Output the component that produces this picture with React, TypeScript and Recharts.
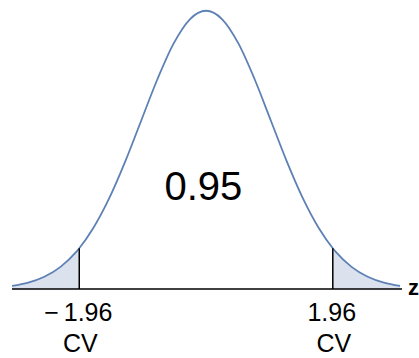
import React from 'react';
import {
  ComposedChart,
  Line,
  Area,
  XAxis,
  YAxis,
  ReferenceLine,
  ReferenceDot,
} from 'recharts';

// standard normal curve
const zValues = [
  -3, -2.75, -2.5, -2.25, -2, -1.96, -1.75, -1.5, -1.25, -1, -0.75, -0.5, -0.25,
  0, 0.25, 0.5, 0.75, 1, 1.25, 1.5, 1.75, 1.96, 2, 2.25, 2.5, 2.75, 3,
];
const density = [
  0.0044, 0.0091, 0.0175, 0.0317, 0.054, 0.0584, 0.0863, 0.1295, 0.1826, 0.242, 0.3011, 0.3521, 0.3867,
  0.3989, 0.3867, 0.3521, 0.3011, 0.242, 0.1826, 0.1295, 0.0863, 0.0584, 0.054, 0.0317, 0.0175, 0.0091, 0.0044,
];
// shaded rejection tails (null in the middle)
const tailDensity = [
  0.0044, 0.0091, 0.0175, 0.0317, 0.054, 0.0584, null, null, null, null, null, null, null,
  null, null, null, null, null, null, null, null, 0.0584, 0.054, 0.0317, 0.0175, 0.0091, 0.0044,
];
const criticalValues = [-1.96, 1.96];
const criticalLabels = ['\u2212\u20091.96', '1.96'];
const criticalHeight = 0.0584;
const tickSubLabel = 'CV';
const centerLabel = '0.95';
const axisName = 'z';

const data = zValues.map((z, i) => ({ z, density: density[i], tail: tailDensity[i] }));

const FONT = '"Liberation Sans", Arial, Helvetica, sans-serif';

const CriticalTick = (props: any) => {
  const { x, y, payload } = props;
  const idx = criticalValues.indexOf(payload.value);
  return (
    <g>
      <text x={x - 1} y={y + 32} textAnchor="middle" fontSize={25} fontFamily={FONT} fill="#000">
        {criticalLabels[idx]}
      </text>
      <text x={x + 1} y={y + 63} textAnchor="middle" fontSize={25} fontFamily={FONT} fill="#000">
        {tickSubLabel}
      </text>
    </g>
  );
};

const App = () => {
  return (
    <div style={{ position: 'absolute', left: 0, top: 0, background: '#fff', fontFamily: FONT }}>
      <ComposedChart
        width={419}
        height={358}
        data={data}
        margin={{ top: 10, right: 17, bottom: 9, left: 12 }}
      >
        <XAxis
          dataKey="z"
          type="number"
          domain={[-3, 3.03]}
          ticks={criticalValues}
          interval={0}
          allowDataOverflow
          height={60}
          tickLine={false}
          tickSize={0}
          tickMargin={0}
          axisLine={{ stroke: '#000', strokeWidth: 1.5 }}
          tick={<CriticalTick />}
        />
        <YAxis hide type="number" domain={[0, 0.4]} />
        <Area
          type="monotone"
          dataKey="tail"
          stroke="none"
          fill="#dbe2ee"
          fillOpacity={1}
          connectNulls={false}
          isAnimationActive={false}
        />
        <Line
          type="monotone"
          dataKey="density"
          stroke="#5e81b5"
          strokeWidth={1.8}
          dot={false}
          activeDot={false}
          isAnimationActive={false}
        />
        {criticalValues.map((cv) => (
          <ReferenceLine
            key={cv}
            segment={[
              { x: cv, y: 0 },
              { x: cv, y: criticalHeight },
            ]}
            stroke="#000"
            strokeWidth={1.5}
          />
        ))}
        <ReferenceDot
          x={-0.04}
          y={0.1276}
          r={0}
          fill="none"
          stroke="none"
          label={{
            content: (p: any) => (
              <text
                x={p.viewBox.x}
                y={p.viewBox.y}
                textAnchor="middle"
                fontSize={40}
                fontFamily={FONT}
                fill="#000"
              >
                {centerLabel}
              </text>
            ),
          }}
        />
        <ReferenceDot
          x={3.03}
          y={0}
          r={0}
          fill="none"
          stroke="none"
          label={{
            content: (p: any) => (
              <text x={p.viewBox.x + 6} y={p.viewBox.y + 6} fontSize={22} fontWeight="bold" fontFamily={FONT} fill="#000">
                {axisName}
              </text>
            ),
          }}
        />
      </ComposedChart>
    </div>
  );
};

export default App;
